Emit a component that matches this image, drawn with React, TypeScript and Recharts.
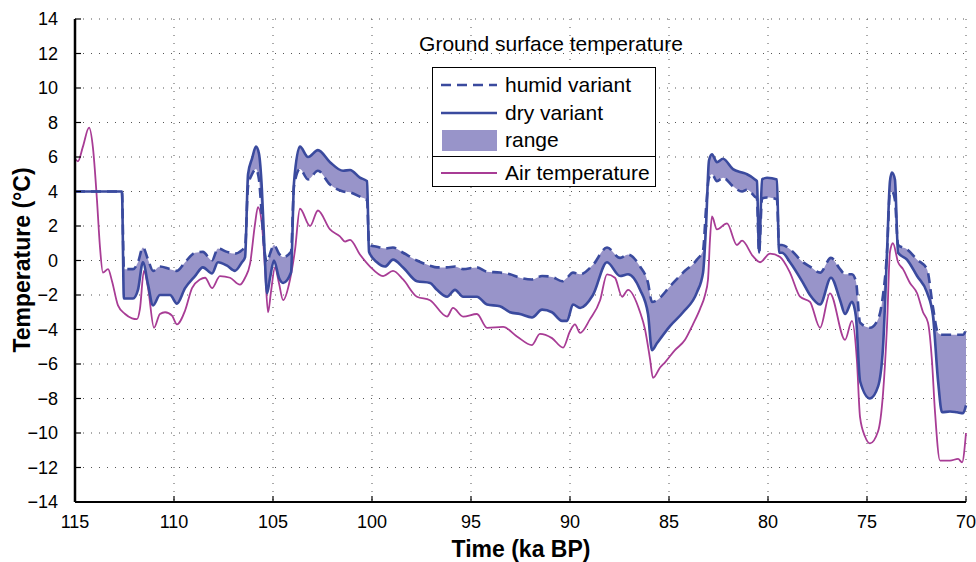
import {
  Area,
  CartesianGrid,
  ComposedChart,
  Line,
  XAxis,
  YAxis,
} from "recharts";

// ground surface temperature, humid and dry variants (ka BP, °C)
const groundTime = [
  115.0, 112.63, 112.53, 112.07, 111.82, 111.57, 111.31, 111.06, 110.71, 110.2,
  109.85, 109.44, 108.94, 108.54, 108.08, 107.78, 107.32, 106.92, 106.57, 106.41,
  106.26, 106.06, 105.86, 105.71, 105.56, 105.45, 105.3, 105.15, 104.95, 104.7,
  104.49, 104.09, 103.94, 103.64, 103.23, 102.73, 102.12, 101.46, 101.11, 100.61,
  100.25, 100.15, 99.75, 99.34, 98.94, 98.43, 97.73, 97.07, 96.72, 96.21,
  95.81, 95.4, 94.7, 94.19, 93.54, 93.03, 92.53, 91.92, 91.41, 90.91,
  90.4, 90.15, 89.85, 89.49, 88.84, 88.13, 87.47, 87.07, 86.46, 86.06,
  85.86, 85.61, 84.95, 84.29, 83.59, 83.28, 83.13, 82.98, 82.83, 82.58,
  82.27, 81.77, 81.31, 81.06, 80.66, 80.56, 80.45, 80.3, 80.05, 79.55,
  79.44, 79.29, 78.89, 78.23, 77.88, 77.37, 76.82, 76.36, 76.11, 75.76,
  75.56, 75.35, 74.85, 74.44, 74.19, 73.99, 73.84, 73.74, 73.59, 73.43,
  72.98, 72.47, 71.97, 71.67, 71.41, 71.21, 70.81, 70.45, 70.15, 70.0,
];
const humidTemp = [
  4.0, 4.0, -0.5, -0.5, -0.1, 0.75, 0.05, -0.6, -0.35, -0.5,
  -0.6, -0.1, 0.45, 0.5, 0.0, 0.7, 0.5, 0.4, 0.6, 0.8,
  4.3, 5.0, 5.3, 4.7, 2.5, 0.8, -0.1, 0.4, 0.9, 0.4,
  0.2, 0.5, 4.3, 5.3, 4.7, 5.2, 4.4, 4.0, 3.95, 3.7,
  3.5, 0.9, 0.8, 0.7, 0.75, 0.45, 0.0, -0.3, -0.4, -0.4,
  -0.35, -0.5, -0.4, -0.65, -0.7, -0.8, -1.0, -1.1, -0.9, -0.95,
  -1.2, -1.0, -0.7, -0.8, -0.25, 0.75, 0.15, 0.35, -0.35, -1.3,
  -2.4, -2.3, -1.5, -0.7, 0.05, 0.6, 3.0, 4.8, 5.0, 4.6,
  4.8, 4.3, 4.0, 4.1, 3.7, 3.6, 0.45, 3.6, 3.65, 3.55,
  0.9, 0.9, 0.65, -0.1, -0.35, -0.7, 0.15, -0.5, -0.8, -0.8,
  -1.2, -3.6, -3.9, -3.4, -2.0, 0.45, 3.95, 4.0, 3.5, 0.9,
  0.65, 0.05, -0.5, -2.7, -4.2, -4.3, -4.3, -4.3, -4.3, -4.0,
];
const dryTemp = [
  4.0, 4.0, -2.2, -2.2, -1.7, -0.1, -1.4, -2.6, -2.0, -2.0,
  -2.5, -1.6, -0.9, -0.4, -0.75, -0.1, -0.3, -0.6, -0.1, 0.2,
  5.0, 5.9, 6.6, 6.2, 4.1, 1.2, -1.9, -1.0, 0.0, -1.0,
  -1.3, -0.7, 4.5, 6.6, 6.0, 6.4, 5.7, 5.2, 5.25, 4.8,
  4.6, 0.5, -0.1, -0.35, 0.05, -0.4, -1.2, -1.3, -1.7, -2.1,
  -1.7, -2.1, -2.1, -2.55, -2.65, -3.0, -3.1, -3.3, -2.85, -3.0,
  -3.5, -3.5, -2.55, -2.75, -2.0, -0.1, -0.9, -0.8, -1.7, -3.1,
  -5.2, -4.8, -3.8, -3.0, -1.85, -0.7, 2.0, 5.8, 6.15, 5.7,
  5.9, 5.3, 5.1, 5.0, 4.7, 4.6, 0.45, 4.7, 4.8, 4.7,
  0.45, 0.45, -0.1, -1.3, -2.0, -2.55, -1.0, -2.3, -3.1, -2.4,
  -3.25, -7.0, -8.0, -7.3, -5.0, 0.45, 4.6, 5.1, 4.7, 0.45,
  0.05, -0.9, -1.85, -3.2, -7.0, -8.8, -8.75, -8.8, -8.85, -8.4,
];

// air temperature
const airTime = [
  115.0, 114.85, 114.6, 114.29, 114.09, 113.89, 113.74, 113.59, 113.33, 113.13,
  112.83, 112.47, 112.12, 111.87, 111.72, 111.52, 111.31, 111.01, 110.71, 110.45,
  110.1, 109.85, 109.44, 109.09, 108.69, 108.43, 108.08, 107.68, 107.17, 106.67,
  106.41, 106.16, 105.91, 105.76, 105.56, 105.4, 105.25, 105.1, 104.9, 104.7,
  104.49, 104.14, 103.89, 103.64, 103.13, 102.73, 102.12, 101.62, 101.36, 101.11,
  100.61, 100.1, 99.44, 98.94, 98.43, 97.73, 97.07, 96.21, 95.91, 95.4,
  94.7, 94.19, 93.38, 92.68, 91.92, 91.52, 90.91, 90.35, 90.0, 89.75,
  89.49, 88.99, 88.48, 88.13, 87.73, 87.37, 87.07, 86.46, 86.21, 85.96,
  85.81, 85.45, 85.2, 84.7, 84.19, 83.79, 83.43, 83.18, 83.03, 82.93,
  82.83, 82.58, 82.07, 81.57, 81.31, 80.76, 80.4, 79.9, 79.39, 78.89,
  78.38, 77.88, 77.37, 76.87, 76.11, 75.76, 75.51, 75.35, 75.1, 74.85,
  74.44, 74.19, 73.99, 73.84, 73.69, 73.43, 73.18, 72.83, 72.47, 72.17,
  71.92, 71.72, 71.57, 71.31, 70.81, 70.4, 70.2, 70.0,
];
const airTemp = [
  5.9, 5.75, 6.6, 7.7, 6.5, 3.5, 0.8, -0.7, -0.5, -1.2,
  -2.6, -3.1, -3.35, -3.4, -2.8, -0.6, -1.6, -3.9, -3.1, -3.0,
  -3.2, -3.7, -2.9, -1.6, -1.1, -1.0, -1.6, -0.9, -1.0, -1.4,
  -1.0, -0.2, 2.1, 3.1, 2.1, -0.5, -3.0, -1.8, -0.4, -1.3,
  -2.3, -1.1, 0.6, 3.0, 2.0, 2.9, 1.8, 1.4, 1.1, 1.2,
  0.35, -0.35, -0.9, -0.6, -1.1, -2.1, -2.3, -3.25, -2.75, -3.25,
  -3.1, -3.9, -3.85, -4.4, -4.9, -4.25, -4.5, -5.05, -4.1, -3.7,
  -4.2, -3.4, -2.3, -0.8, -1.0, -2.1, -1.7, -3.0, -4.0, -5.7,
  -6.8, -6.2, -5.9, -5.2, -4.6, -3.7, -2.8, -2.0, -1.1, 1.2,
  2.55, 1.8, 2.15, 0.9, 1.15, 0.25, -0.1, 0.4, 0.2, -0.7,
  -2.1, -2.4, -3.9, -1.9, -4.6, -3.5, -5.8, -9.1, -10.2, -10.6,
  -9.9, -7.7, -3.8, 0.5, 1.0, -0.1, -0.5, -1.3, -1.9, -3.0,
  -3.6, -5.8, -8.7, -11.6, -11.6, -11.5, -11.7, -10.0,
];

const timeTicks = [115, 110, 105, 100, 95, 90, 85, 80, 75, 70];
const tempTicks = [-14, -12, -10, -8, -6, -4, -2, 0, 2, 4, 6, 8, 10, 12, 14];

const groundData = groundTime.map((t, i) => ({
  t,
  humid: humidTemp[i],
  dry: dryTemp[i],
  range: [Math.min(humidTemp[i], dryTemp[i]), Math.max(humidTemp[i], dryTemp[i])],
}));
const airData = airTime.map((t, i) => ({ t, air: airTemp[i] }));

const BLUE = "#3a4a9e";
const FILL = "#9894c9";
const MAGENTA = "#a83c95";
const FONT = "'Liberation Sans', Arial, sans-serif";

const fmtTemp = (v: number) => (v < 0 ? "\u2212" + Math.abs(v) : String(v));

// axis titles sit at fixed spots, like the original figure
const YTitle = () => (
  <text x={22} y={260} transform="rotate(-90 22 260)" textAnchor="middle" dominantBaseline="central"
    fill="#000" fontSize={23} fontWeight="bold" fontFamily={FONT}>
    Temperature (°C)
  </text>
);
const XTitle = () => (
  <text x={521} y={549} textAnchor="middle" dominantBaseline="central"
    fill="#000" fontSize={23} fontWeight="bold" fontFamily={FONT}>
    Time (ka BP)
  </text>
);

function Legend() {
  const row = (top: number, sample: any, label: string) => (
    <div style={{ position: "absolute", left: 0, top, height: 24, display: "flex", alignItems: "center" }}>
      <div style={{ width: 72, display: "flex", justifyContent: "center" }}>{sample}</div>
      <span>{label}</span>
    </div>
  );
  return (
    <div
      style={{
        position: "absolute",
        left: 432,
        top: 67,
        width: 224,
        height: 120,
        border: "1.5px solid #000",
        background: "#fff",
        fontFamily: FONT,
        fontSize: 21,
        color: "#000",
        boxSizing: "border-box",
      }}
    >
      {row(5, <svg width={56} height={6}><line x1={0} y1={3} x2={56} y2={3} stroke={BLUE} strokeWidth={2.5} strokeDasharray="10 6" /></svg>, "humid variant")}
      {row(33, <svg width={56} height={6}><line x1={0} y1={3} x2={56} y2={3} stroke={BLUE} strokeWidth={2.5} /></svg>, "dry variant")}
      {row(60, <div style={{ width: 55, height: 21, background: FILL }} />, "range")}
      <div style={{ position: "absolute", left: 0, right: 0, top: 88, borderTop: "1.5px solid #000" }} />
      {row(93, <svg width={56} height={6}><line x1={0} y1={3} x2={56} y2={3} stroke={MAGENTA} strokeWidth={1.8} /></svg>, "Air temperature")}
    </div>
  );
}

export default function App() {
  return (
    <div style={{ position: "fixed", left: 0, top: 0, width: 976, height: 562, background: "#fff" }}>
      <ComposedChart
        width={976}
        height={562}
        data={groundData}
        margin={{ top: 19, right: 10, bottom: 0, left: 0 }}
        style={{ fontFamily: FONT }}
      >
        <CartesianGrid stroke="#555" strokeDasharray="1 7" />
        <XAxis
          dataKey="t"
          type="number"
          domain={[70, 115]}
          reversed
          ticks={timeTicks}
          interval={0}
          height={60}
          tickSize={-6}
          tickMargin={19}
          tick={{ fill: "#000", fontSize: 18 }}
          tickLine={{ stroke: "#000", strokeWidth: 1.2 }}
          axisLine={{ stroke: "#000", strokeWidth: 2 }}
          label={<XTitle />}
        />
        <XAxis
          xAxisId="top"
          dataKey="t"
          type="number"
          orientation="top"
          domain={[70, 115]}
          reversed
          ticks={timeTicks}
          interval={0}
          height={0}
          tickSize={-6}
          tickFormatter={() => ""}
          tickLine={{ stroke: "#000", strokeWidth: 1.2 }}
          axisLine={{ stroke: "#000", strokeWidth: 1.5 }}
        />
        <YAxis
          type="number"
          domain={[-14, 14]}
          ticks={tempTicks}
          interval={0}
          width={75}
          tickSize={-6}
          tickMargin={23}
          tickFormatter={fmtTemp}
          tick={{ fill: "#000", fontSize: 18 }}
          tickLine={{ stroke: "#000", strokeWidth: 1.2 }}
          axisLine={{ stroke: "#000", strokeWidth: 2.5 }}
          label={<YTitle />}
        />
        <YAxis
          yAxisId="right"
          type="number"
          orientation="right"
          domain={[-14, 14]}
          ticks={tempTicks}
          interval={0}
          width={0}
          tickSize={-6}
          tickFormatter={() => ""}
          tickLine={{ stroke: "#000", strokeWidth: 1.2 }}
          axisLine={{ stroke: "#000", strokeWidth: 1.5 }}
        />
        <Area
          dataKey="range"
          type="monotone"
          fill={FILL}
          fillOpacity={1}
          stroke="none"
          isAnimationActive={false}
        />
        <Line
          data={airData}
          dataKey="air"
          type="monotone"
          stroke={MAGENTA}
          strokeWidth={1.8}
          dot={false}
          isAnimationActive={false}
        />
        <Line
          dataKey="humid"
          type="monotone"
          stroke={BLUE}
          strokeWidth={2.6}
          strokeDasharray="10 6"
          dot={false}
          isAnimationActive={false}
        />
        <Line
          dataKey="dry"
          type="monotone"
          stroke={BLUE}
          strokeWidth={2.6}
          dot={false}
          isAnimationActive={false}
        />
      </ComposedChart>
      <div
        style={{
          position: "absolute",
          left: 351,
          width: 400,
          top: 32,
          textAlign: "center",
          fontFamily: FONT,
          fontSize: 21,
          color: "#000",
          lineHeight: "24px",
        }}
      >
        Ground surface temperature
      </div>
      <Legend />
    </div>
  );
}
